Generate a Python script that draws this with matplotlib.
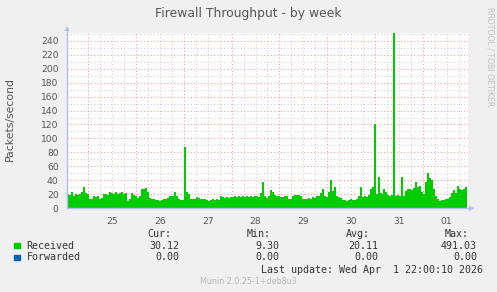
"""
Munin style chart - Firewall Throughput - by week
"""

import numpy as np
import matplotlib.pyplot as plt
from matplotlib.patches import Rectangle

# -------------------------------------------------------------------
# Data (packets/second, one sample per hour, starting Mar 24 ~13:20)
# -------------------------------------------------------------------
received = [
    20, 19, 24, 18, 20, 19, 21, 24, 30, 22, 20, 13, 14, 17, 16, 17, 13, 15, 20, 21,
    19, 23, 22, 21, 23, 21, 22, 24, 20, 22, 11, 13, 22, 19, 17, 15, 17, 28, 27, 29,
    24, 15, 14, 13, 12, 12, 11, 12, 14, 13, 15, 17, 17, 18, 24, 17, 14, 12, 12, 88,
    23, 20, 13, 14, 13, 16, 15, 13, 14, 13, 12, 11, 12, 13, 12, 13, 12, 17, 16, 15,
    16, 15, 16, 16, 17, 16, 17, 16, 17, 16, 17, 16, 17, 16, 18, 17, 16, 22, 38, 17,
    15, 17, 26, 24, 19, 18, 17, 16, 16, 17, 17, 13, 14, 18, 19, 19, 19, 18, 14, 13,
    14, 15, 14, 16, 15, 17, 17, 22, 28, 18, 16, 23, 40, 25, 31, 18, 16, 15, 12, 12,
    11, 12, 13, 12, 12, 13, 17, 30, 16, 17, 16, 19, 27, 30, 121, 20, 45, 22, 20, 27,
    23, 19, 18, 19, 491, 18, 19, 17, 45, 18, 25, 28, 27, 26, 29, 38, 30, 32, 24, 21,
    38, 50, 44, 40, 28, 18, 13, 11, 12, 12, 13, 14, 16, 22, 26, 22, 32, 27, 26, 27,
    30,
]
forwarded = [0.0] * len(received)

start_hour = 13.3          # hours after Mar 24 00:00
day_labels = ["25", "26", "27", "28", "29", "30", "31", "01"]

legend_rows = [
    ("Received", "#00cc00", "30.12", "9.30", "20.11", "491.03"),
    ("Forwarded", "#0066b3", "0.00", "0.00", "0.00", "0.00"),
]
last_update = "Last update: Wed Apr  1 22:00:10 2026"

# -------------------------------------------------------------------
# Figure
# -------------------------------------------------------------------
W, H = 497, 292
fig = plt.figure(figsize=(W / 100, H / 100), dpi=100, facecolor="#f0f0f0")


def fx(x):
    return x / W


def fy(y):
    return 1 - y / H


left, right, top, bottom = 67, 467.7, 33, 208.3
ax = fig.add_axes([fx(left), fy(bottom), (right - left) / W, (bottom - top) / H])
ax.set_facecolor("white")

hours = start_hour + np.arange(len(received) + 1)
rec = np.append(received, received[-1])
ax.fill_between(hours, rec, step="post", color="#00cc00", linewidth=0, zorder=2)

ax.set_xlim(start_hour, start_hour + 201.3)
ax.set_ylim(0, 251)

# grid: minor grey, major red
for h in np.arange(24, 216, 6):
    if h % 24:
        ax.axvline(h, color="#d2d2d2", lw=0.8, ls=(0, (1, 2)), zorder=1)
for v in range(10, 260, 20):
    ax.axhline(v, color="#d2d2d2", lw=0.8, ls=(0, (1, 2)), zorder=1)
for h in range(24, 216, 24):
    ax.axvline(h, color="#f4a0a0", lw=0.8, ls=(0, (1, 2)), zorder=1.5)
for v in range(20, 260, 20):
    ax.axhline(v, color="#f4a0a0", lw=0.8, ls=(0, (1, 2)), zorder=1.5)

ax.set_xticks([36 + 24 * i for i in range(len(day_labels))])
ax.set_xticklabels(day_labels)
ax.set_yticks(range(0, 241, 20))
ax.tick_params(length=0, labelsize=6.6, colors="#555555", pad=6)
for s in ax.spines.values():
    s.set_visible(False)

# axis arrows
axis_col = "#b4bcf2"
fig.add_artist(plt.Line2D([fx(67), fx(67)], [fy(208.3), fy(28)], color=axis_col, lw=1))
fig.add_artist(plt.Line2D([fx(67), fx(472)], [fy(208.3), fy(208.3)], color=axis_col, lw=1))
fig.add_artist(plt.Polygon([[fx(64.5), fy(31)], [fx(69.5), fy(31)], [fx(67), fy(26)]],
                           color=axis_col, lw=0))
fig.add_artist(plt.Polygon([[fx(469), fy(205.8)], [fx(469), fy(210.8)], [fx(474), fy(208.3)]],
                           color=axis_col, lw=0))

# -------------------------------------------------------------------
# Texts
# -------------------------------------------------------------------
fig.text(fx(248), fy(13), "Firewall Throughput - by week", ha="center", va="center",
         fontsize=8.9, color="#555555")
fig.text(fx(10), fy(119), "Packets/second", ha="center", va="center", rotation=90,
         fontsize=7.8, color="#555555")
fig.text(fx(490), fy(57), "RRDTOOL / TOBI OETIKER", ha="center", va="center", rotation=270,
         fontsize=5.6, color="#c0c0c0")

mono = dict(family="DejaVu Sans Mono", fontsize=7.2, color="#333333", va="center")
for label, x in zip(["Cur:", "Min:", "Avg:", "Max:"], [171, 271, 370, 469]):
    fig.text(fx(x), fy(234), label, ha="right", **mono)

for row, (name, col, cur, mn, avg, mx) in enumerate(legend_rows):
    y = 245.7 + row * 11.6
    fig.add_artist(Rectangle((fx(14), fy(y + 2.7)), 5.5 / W, 5.5 / H, color=col,
                             transform=fig.transFigure))
    fig.text(fx(26.7), fy(y), name, ha="left", **mono)
    for val, x in zip([cur, mn, avg, mx], [179, 279, 378, 477]):
        fig.text(fx(x), fy(y), val, ha="right", **mono)

fig.text(fx(483), fy(269.7), last_update, ha="right", **mono)
fig.text(fx(248), fy(281.3), "Munin 2.0.25-1+deb8u3", ha="center", va="center",
         fontsize=5.8, color="#b8b8b8")

plt.savefig("out.png", dpi=100, facecolor=fig.get_facecolor())
plt.close()
